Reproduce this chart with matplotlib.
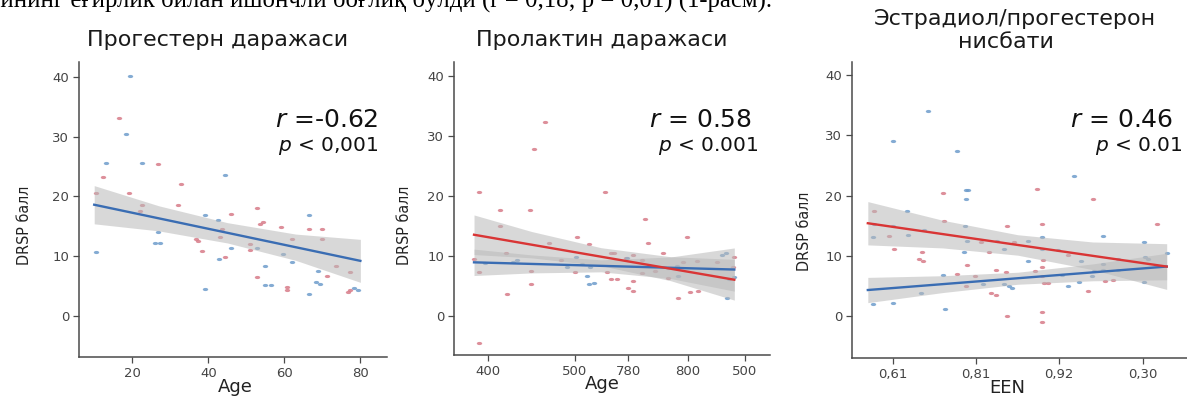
import numpy as np
import matplotlib
matplotlib.use("Agg")
import matplotlib.pyplot as plt
from matplotlib.path import Path
from matplotlib.transforms import Affine2D

# ------------------------------------------------------------------ data
# Panel 1: Прогестерн даражаси
p1_blue_x = [19.3, 18.3, 13.2, 22.6, 44.4, 10.5, 26.8, 26.0, 27.3, 39.1, 42.6, 42.8,
             46.1, 39.1, 66.5, 52.9, 59.7, 61.9, 54.9, 68.9, 54.9, 56.6, 68.3, 69.3,
             66.5, 78.2, 79.4]
p1_blue_y = [40.1, 30.4, 25.6, 25.6, 23.5, 10.7, 14.0, 12.2, 12.2, 16.9, 16.0, 9.5,
             11.3, 4.5, 16.9, 11.3, 10.3, 9.0, 8.4, 7.5, 5.1, 5.1, 5.7, 5.3,
             3.7, 4.7, 4.3]
p1_red_x = [16.5, 26.8, 12.4, 10.5, 19.1, 32.7, 22.6, 22.0, 32.1, 45.9, 43.5, 43.2,
            36.8, 37.3, 38.4, 44.4, 52.9, 54.4, 53.7, 59.0, 66.5, 69.8, 61.9, 69.8,
            51.1, 51.1, 73.5, 71.2, 52.9, 77.2, 60.8, 60.8, 76.8, 77.4]
p1_red_y = [33.2, 25.4, 23.3, 20.6, 20.5, 22.0, 18.5, 17.6, 18.5, 17.0, 14.6, 13.2,
            12.9, 12.5, 10.8, 9.8, 18.1, 15.7, 15.3, 14.9, 14.6, 14.5, 12.8, 12.8,
            12.1, 11.0, 8.4, 6.6, 6.5, 7.3, 4.9, 4.4, 4.0, 4.3]
p1_fit_x = [10, 80]
p1_fit_y = [18.6, 9.2]
p1_band_x = [10, 27, 45, 63, 80]
p1_band_hw = [3.2, 2.1, 1.7, 2.2, 3.6]

# Panel 2: Пролактин даражаси
p2_blue_x = [396.2, 429.0, 433.7, 500.8, 491.0, 508.4, 517.0, 514.0, 516.0, 521.8,
             668.3, 673.3, 616.8, 607.2, 618.7, 674.2, 677.3, 682.7, 560.0]
p2_blue_y = [8.8, 9.0, 9.3, 9.8, 8.1, 8.7, 8.2, 6.6, 5.3, 5.4,
             10.1, 10.4, 8.3, 8.0, 6.6, 2.9, 6.2, 6.5, 9.6]
p2_red_x = [465.1, 452.9, 390.0, 534.8, 413.8, 448.6, 413.8, 501.9, 470.5, 516.0,
            420.3, 383.9, 483.6, 390.0, 449.0, 499.6, 449.0, 421.5, 390.0, 541.0,
            536.4, 541.0, 580.4, 629.0, 584.2, 600.7, 544.8, 567.0, 558.6, 576.6,
            640.4, 624.3, 663.4, 682.7, 592.0, 576.6, 607.2, 547.7, 567.0, 561.2,
            567.0, 632.1, 641.7, 618.7, 681.0]
p2_red_y = [32.3, 27.8, 20.7, 20.7, 17.6, 17.6, 15.0, 13.1, 12.2, 12.0,
            10.5, 9.5, 9.3, 7.3, 7.5, 7.3, 5.3, 3.7, -4.6, 10.5,
            7.3, 6.1, 16.1, 13.1, 12.2, 10.5, 10.5, 10.1, 9.6, 9.3,
            9.1, 8.9, 9.0, 9.8, 7.4, 7.1, 6.3, 6.2, 5.8, 4.7,
            4.2, 4.0, 4.1, 3.0, 8.1]
p2_red_fit_x = [384, 683]
p2_red_fit_y = [13.5, 6.0]
p2_red_band_x = [384, 450, 530, 610, 683]
p2_red_band_hw = [3.3, 2.2, 1.5, 2.0, 3.4]
p2_blue_fit_x = [384, 683]
p2_blue_fit_y = [8.9, 7.7]
p2_blue_band_x = [384, 450, 530, 610, 683]
p2_blue_band_hw = [2.2, 1.5, 1.0, 1.8, 3.6]
p2_tick_pos = [400, 500, 561, 630, 695]
p2_tick_labels = ["400", "500", "780", "800", "500"]

# Panel 3: Эстрадиол/прогестерон нисбати
p3_blue_x = [0.42, 0.00, 0.77, 0.88, 0.90, 0.88, 0.17, 0.87, -0.23, 0.00, -0.24, 0.18,
             0.38, 0.89, 1.25, 0.86, 1.34, 0.60, 1.08, 1.33, 1.39, 1.43, 0.34, -0.24,
             0.00, 0.63, 2.18, 2.52, 1.79, 1.62, 3.02, 1.79, 1.98, 3.29, 3.03, 3.07,
             1.62, 2.26, 2.52, 2.70, 2.42, 2.52, 2.70, 2.03, 2.39, 2.24, 2.11, 3.02]
p3_blue_y = [34.0, 29.1, 27.4, 21.0, 21.0, 19.4, 17.5, 15.0, 15.3, 15.0, 13.1, 13.4,
             14.2, 12.4, 12.4, 10.7, 11.1, 6.8, 5.3, 5.3, 5.0, 4.7, 3.8, 2.0,
             2.2, 1.1, 23.2, 13.3, 13.1, 12.4, 12.3, 11.2, 11.0, 10.4, 9.8, 9.4,
             9.1, 9.2, 8.7, 9.4, 7.4, 7.7, 7.7, 6.8, 6.6, 5.6, 4.9, 5.7]
p3_red_x = [0.60, -0.22, 0.62, 1.37, -0.05, 1.06, 1.45, 0.01, 0.35, 1.16, 0.31, 0.36,
            0.89, 1.24, 1.36, 0.77, 0.99, 0.88, 1.18, 1.24, 1.37, 1.73, 2.41, 1.79,
            3.17, 2.10, 1.81, 1.79, 1.71, 1.79, 1.82, 1.87, 2.55, 2.65, 2.35, 1.79, 1.79]
p3_red_y = [20.5, 17.4, 15.8, 15.0, 13.3, 12.2, 12.3, 11.1, 10.7, 10.7, 9.5, 9.1,
            8.4, 7.6, 7.3, 7.0, 6.6, 5.0, 3.8, 3.4, 0.0, 21.1, 19.4, 15.3,
            15.3, 10.1, 9.3, 8.2, 7.5, 6.6, 5.4, 5.4, 5.8, 5.9, 4.1, 0.7, -1.0]
p3_red_fit_x = [-0.3, 3.29]
p3_red_fit_y = [15.4, 8.2]
p3_red_band_x = [-0.3, 0.6, 1.5, 2.4, 3.29]
p3_red_band_hw = [3.6, 2.3, 1.7, 2.3, 3.8]
p3_blue_fit_x = [-0.3, 3.29]
p3_blue_fit_y = [4.3, 8.2]
p3_blue_band_x = [-0.3, 0.6, 1.5, 2.4, 3.29]
p3_blue_band_hw = [2.1, 1.4, 1.0, 1.4, 2.2]
p3_tick_pos = [0, 1, 2, 3]
p3_tick_labels = ["0,61", "0,81", "0,92", "0,30"]

y_ticks = [0, 10, 20, 30, 40]

# ------------------------------------------------------------------ style
W, H = 1187, 396
RED_PT = "#d77b88"
BLUE_PT = "#6f9dcc"
RED_LN = "#d93535"
BLUE_LN = "#3a6db3"
BAND = "#b9b9b9"
AXC = "#4a4a4a"
TXT = "#444444"

ell = Path.unit_circle().transformed(Affine2D().scale(1.7, 1.0))


def fx(px):
    return px / W


def fy(py):
    return 1 - py / H


fig = plt.figure(figsize=(W / 100, H / 100), dpi=100)
fig.patch.set_facecolor("white")


def setup(ax, xlim, ylim, xlabel, xlab_x, ylab_xy):
    ax.set_xlim(*xlim)
    ax.set_ylim(*ylim)
    for s in ("top", "right"):
        ax.spines[s].set_visible(False)
    for s in ("left", "bottom"):
        ax.spines[s].set_color(AXC)
        ax.spines[s].set_linewidth(1.1)
    ax.tick_params(colors=AXC, labelcolor=TXT, length=4, width=0.9,
                   labelsize=9.5, pad=3)
    ax.set_yticks(y_ticks)
    ax.set_xlabel(xlabel, fontsize=13, color="#222222")
    ax.xaxis.label.set_va("center")
    ax.xaxis.set_label_coords(xlab_x, -0.1)
    ax.set_ylabel("DRSP балл", fontsize=11.5, color="#222222",
                  fontstretch="condensed")
    ax.yaxis.set_label_coords(*ylab_xy)


def band(ax, bx, hw, fit_x, fit_y, zorder=2):
    bx = np.asarray(bx, float)
    hw = np.asarray(hw, float)
    yc = fit_y[0] + (fit_y[1] - fit_y[0]) * (bx - fit_x[0]) / (fit_x[1] - fit_x[0])
    ax.fill_between(bx, yc - hw, yc + hw, color=BAND, alpha=0.55,
                    linewidth=0, zorder=zorder)


def points(ax, x, y, c):
    ax.scatter(x, y, s=15, marker=ell, color=c, alpha=0.85,
               linewidths=0, zorder=1)


# ---------------- panel 1
ax1 = fig.add_axes([fx(79), fy(357), 308 / W, 295 / H])
setup(ax1, (6, 87), (-6.9, 42.5), "Age", 0.506, (-0.153, 0.447))
ax1.set_xticks([20, 40, 60, 80])
points(ax1, p1_red_x, p1_red_y, RED_PT)
points(ax1, p1_blue_x, p1_blue_y, BLUE_PT)
band(ax1, p1_band_x, p1_band_hw, p1_fit_x, p1_fit_y)
ax1.plot(p1_fit_x, p1_fit_y, color=BLUE_LN, lw=1.7, zorder=3)

# ---------------- panel 2
ax2 = fig.add_axes([fx(454), fy(355), 316 / W, 293 / H])
setup(ax2, (361, 724), (-6.55, 42.3), "Age", 0.468, (-0.133, 0.444))
ax2.set_xticks(p2_tick_pos)
ax2.set_xticklabels(p2_tick_labels)
points(ax2, p2_red_x, p2_red_y, RED_PT)
points(ax2, p2_blue_x, p2_blue_y, BLUE_PT)
band(ax2, p2_red_band_x, p2_red_band_hw, p2_red_fit_x, p2_red_fit_y)
band(ax2, p2_blue_band_x, p2_blue_band_hw, p2_blue_fit_x, p2_blue_fit_y)
ax2.plot(p2_blue_fit_x, p2_blue_fit_y, color=BLUE_LN, lw=1.7, zorder=3)
ax2.plot(p2_red_fit_x, p2_red_fit_y, color=RED_LN, lw=1.7, zorder=4)

# ---------------- panel 3
ax3 = fig.add_axes([fx(852), fy(358), 343 / W, 296 / H])
setup(ax3, (-0.49, 3.63), (-7.0, 42.2), "EEN", 0.452, (-0.117, 0.429))
ax3.set_xticks(p3_tick_pos)
ax3.set_xticklabels(p3_tick_labels)
points(ax3, p3_red_x, p3_red_y, RED_PT)
points(ax3, p3_blue_x, p3_blue_y, BLUE_PT)
band(ax3, p3_red_band_x, p3_red_band_hw, p3_red_fit_x, p3_red_fit_y)
band(ax3, p3_blue_band_x, p3_blue_band_hw, p3_blue_fit_x, p3_blue_fit_y)
ax3.plot(p3_blue_fit_x, p3_blue_fit_y, color=BLUE_LN, lw=1.7, zorder=3)
ax3.plot(p3_red_fit_x, p3_red_fit_y, color=RED_LN, lw=1.7, zorder=4)

# ---------------- titles
TFS = 16
fig.text(fx(218), fy(40), "Прогестерн даражаси", fontsize=TFS, color="#1a1a1a",
         ha="center", va="center")
fig.text(fx(602), fy(40), "Пролактин даражаси", fontsize=TFS, color="#1a1a1a",
         ha="center", va="center")
fig.text(fx(1015), fy(19), "Эстрадиол/прогестерон", fontsize=TFS, color="#1a1a1a",
         ha="center", va="center")
fig.text(fx(1006), fy(42), "нисбати", fontsize=TFS, color="#1a1a1a",
         ha="center", va="center")

# ---------------- statistics annotations
RFS, PFS = 18, 14.5
fig.text(fx(378), fy(120), r"$r$ =-0.62", fontsize=RFS, ha="right", va="center",
         color="#111111")
fig.text(fx(378), fy(146), r"$p$ < 0,001", fontsize=PFS, ha="right", va="center",
         color="#111111")
fig.text(fx(752), fy(120), r"$r$ = 0.58", fontsize=RFS, ha="right", va="center",
         color="#111111")
fig.text(fx(758), fy(146), r"$p$ < 0.001", fontsize=PFS, ha="right", va="center",
         color="#111111")
fig.text(fx(1070), fy(120), r"$r$ = 0.46", fontsize=RFS, ha="left", va="center",
         color="#111111")
fig.text(fx(1095), fy(146), r"$p$ < 0.01", fontsize=PFS, ha="left", va="center",
         color="#111111")

# ---------------- cropped line of body text at the top
fig.text(fx(772), fy(7), "лининг ёғирлик билан ишончли боғлиқ бўлди (r = 0,18; p = 0,01) (1-расм).",
         fontsize=17.8, family="Liberation Serif", ha="right", va="baseline",
         color="black")

fig.savefig("out.png", dpi=100, facecolor="white")
